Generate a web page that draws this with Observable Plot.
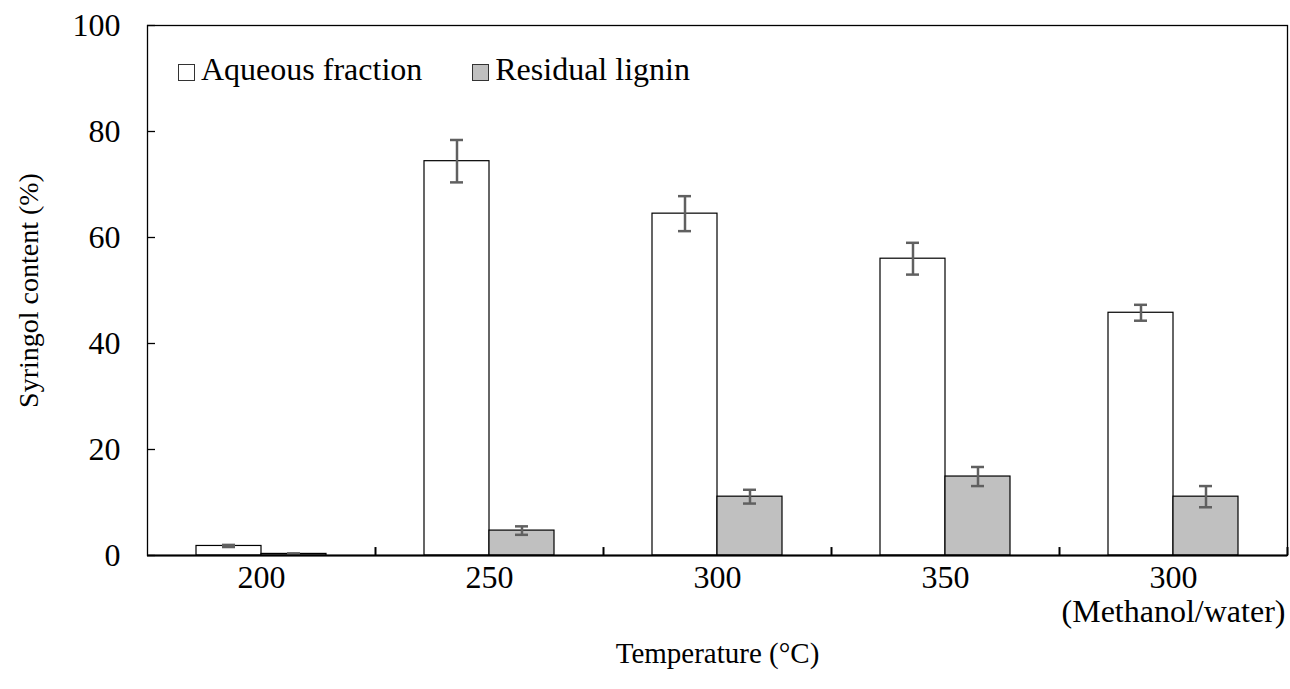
<!DOCTYPE html>
<html><head><meta charset="utf-8">
<script src="https://cdn.jsdelivr.net/npm/d3@7"></script>
<script src="https://cdn.jsdelivr.net/npm/@observablehq/plot@0.6"></script>
<style>
body{margin:0;background:#fff;}
#wrap{position:relative;width:1290px;height:689px;font-family:"Liberation Serif","Times New Roman",serif;color:#000;}
.legend{position:absolute;top:53px;left:178px;font-size:32px;line-height:32px;white-space:nowrap;}
.legend .sw{display:inline-block;width:15px;height:15px;border:1px solid #333;vertical-align:-1px;margin-right:6px;}
.legend .item{display:inline-block;}
.legend .item + .item{margin-left:50px;}
</style></head><body><div id="wrap"></div>
<script>
const categories = ["200", "250", "300", "350", "300 MeOH"];
const tickLabels = ["200", "250", "300", "350", "300\n(Methanol/water)"];
const seriesNames = ["Aqueous fraction", "Residual lignin"];
const seriesColors = ["#ffffff", "#c0c0c0"];
const aqueous = [1.8, 74.4, 64.5, 56.0, 45.8];
const aqueousErr = [0.2, 4.0, 3.3, 3.0, 1.5];
const residual = [0.3, 4.7, 11.1, 14.9, 11.1];
const residualErr = [0.1, 0.8, 1.3, 1.8, 2.0];
const yTicks = [0, 20, 40, 60, 80, 100];
const xTitle = "Temperature (°C)";
const yTitle = "Syringol content (%)";

const W = 1290, H = 689, mL = 147, mR = 3, mT = 25, mB = 134;
const half = (W - mL - mR) / categories.length / 2;
const barW = 65, capW = 13;

const aqRows = categories.map((c, i) => ({cat: c, value: aqueous[i], err: aqueousErr[i]}));
const resRows = categories.map((c, i) => ({cat: c, value: residual[i], err: residualErr[i]}));

const errStyle = {stroke: "#606060", strokeWidth: 2.5};

const plot = Plot.plot({
  width: W, height: H,
  marginLeft: mL, marginRight: mR, marginTop: mT, marginBottom: mB,
  style: {fontFamily: "'Liberation Serif','Times New Roman',serif", fontSize: "29px", color: "#000", background: "#fff"},
  x: {domain: categories, padding: 0},
  y: {domain: [0, 100]},
  marks: [
    Plot.frame({stroke: "#000", strokeWidth: 1.3}),
    Plot.barY(aqRows, {x: "cat", y: "value", fill: seriesColors[0], stroke: "#000", strokeWidth: 1.2, insetLeft: half - barW, insetRight: half}),
    Plot.barY(resRows, {x: "cat", y: "value", fill: seriesColors[1], stroke: "#000", strokeWidth: 1.2, insetLeft: half, insetRight: half - barW}),
    Plot.ruleX(aqRows, {x: "cat", y1: d => d.value - d.err, y2: d => d.value + d.err, dx: -barW / 2, ...errStyle}),
    Plot.tickY(aqRows, {x: "cat", y: d => d.value + d.err, insetLeft: half - barW / 2 - capW / 2, insetRight: half + barW / 2 - capW / 2, ...errStyle}),
    Plot.tickY(aqRows, {x: "cat", y: d => d.value - d.err, insetLeft: half - barW / 2 - capW / 2, insetRight: half + barW / 2 - capW / 2, ...errStyle}),
    Plot.ruleX(resRows, {x: "cat", y1: d => d.value - d.err, y2: d => d.value + d.err, dx: barW / 2, ...errStyle}),
    Plot.tickY(resRows, {x: "cat", y: d => d.value + d.err, insetLeft: half + barW / 2 - capW / 2, insetRight: half - barW / 2 - capW / 2, ...errStyle}),
    Plot.tickY(resRows, {x: "cat", y: d => d.value - d.err, insetLeft: half + barW / 2 - capW / 2, insetRight: half - barW / 2 - capW / 2, ...errStyle}),
    Plot.ruleX(categories, {x: d => d, y1: 0, y2: 1.5, dx: half, stroke: "#000", strokeWidth: 2}),
    Plot.ruleY([0], {stroke: "#000", strokeWidth: 2.2}),
    Plot.axisX({tickSize: 0, tickPadding: 8, tickFormat: d => tickLabels[categories.indexOf(d)], label: null, fontSize: 32, lineHeight: 1.06}),
    Plot.axisY({ticks: yTicks, tickSize: -8, tickPadding: 35, label: null, fontSize: 32, strokeWidth: 1.3}),
    Plot.text([xTitle], {frameAnchor: "bottom", dy: 107, fontSize: 29, textAnchor: "middle", text: d => d}),
    Plot.text([yTitle], {frameAnchor: "left", rotate: -90, dx: -118, fontSize: 28, textAnchor: "middle", text: d => d})
  ]
});
const wrap = document.getElementById("wrap");
wrap.appendChild(plot);
const legend = document.createElement("div");
legend.className = "legend";
seriesNames.forEach((name, i) => {
  const item = document.createElement("span");
  item.className = "item";
  const sw = document.createElement("span");
  sw.className = "sw";
  sw.style.background = seriesColors[i];
  item.appendChild(sw);
  item.appendChild(document.createTextNode(name));
  legend.appendChild(item);
});
wrap.appendChild(legend);
</script></body></html>
